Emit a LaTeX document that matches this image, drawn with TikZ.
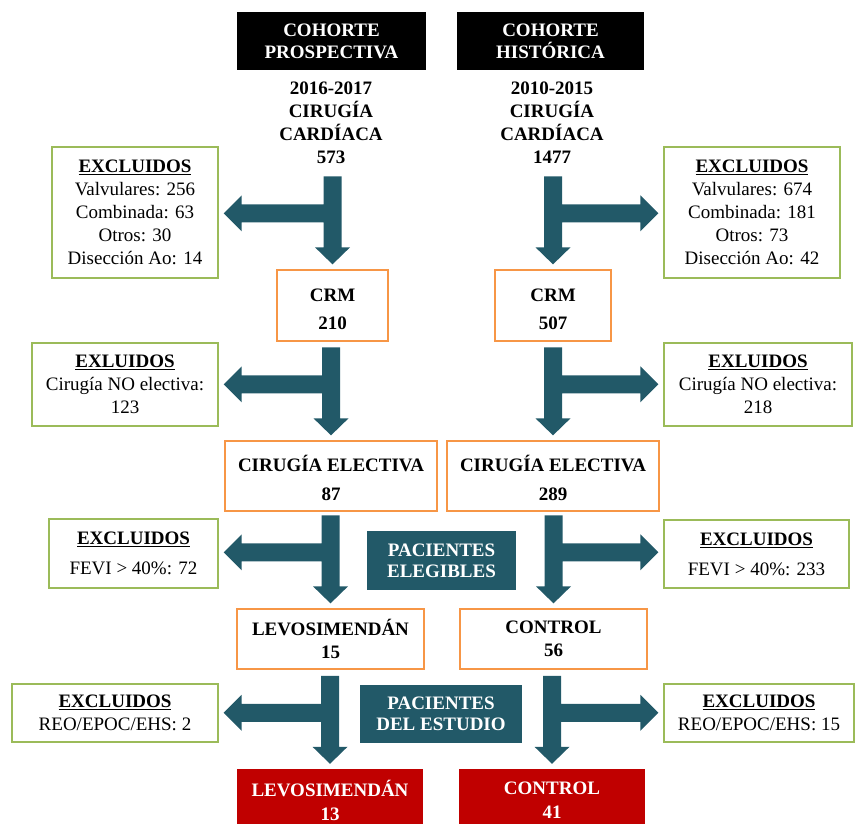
\documentclass[tikz,border=0pt]{standalone}
\usepackage{fontspec}
\setmainfont{Liberation Serif}
\usetikzlibrary{calc}

\definecolor{forkteal}{RGB}{34,89,104}
\definecolor{boxorange}{RGB}{247,150,70}
\definecolor{boxgreen}{RGB}{155,187,89}
\definecolor{boxred}{RGB}{192,0,0}

% Fork arrow: a vertical shaft ending above #1 with a side branch pointing to #2.
% #3 = -1 for a branch to the left, +1 for a branch to the right.
\newcommand\forkarrow[3]{%
  \fill[forkteal] let \p1=(#1.north), \p2=(#2), \n1={#3} in
    ({\x1-(\n1)*9pt},{\y1+93pt}) -- ({\x1-(\n1)*9pt},{\y1+22pt})
    -- ({\x1-(\n1)*17.5pt},{\y1+22pt}) -- (\x1,{\y1+5pt})
    -- ({\x1+(\n1)*17.5pt},{\y1+22pt}) -- ({\x1+(\n1)*9pt},{\y1+22pt})
    -- ({\x1+(\n1)*9pt},{\y1+47pt}) -- ({\x2-(\n1)*23pt},{\y1+47pt})
    -- ({\x2-(\n1)*23pt},{\y1+38pt}) -- ({\x2-(\n1)*5pt},{\y1+56pt})
    -- ({\x2-(\n1)*23pt},{\y1+74pt}) -- ({\x2-(\n1)*23pt},{\y1+65pt})
    -- ({\x1+(\n1)*9pt},{\y1+65pt}) -- ({\x1+(\n1)*9pt},{\y1+93pt}) -- cycle;}

\newcommand\exhead[1]{\textbf{\underline{#1}}}

\begin{document}
\begin{tikzpicture}[x=1pt,y=-1pt,
  base/.style={inner sep=0pt, align=center, font=\fontsize{19}{23}\selectfont},
  hdr/.style={base, fill=black, text=white, font=\fontsize{19}{22}\selectfont\bfseries},
  title/.style={base, font=\fontsize{19}{23}\selectfont\bfseries},
  flow/.style={base, draw=boxorange, line width=1.3pt, font=\fontsize{19}{23}\selectfont\bfseries},
  excl/.style={base, draw=boxgreen, line width=1.3pt},
  tag/.style={base, fill=forkteal, text=white, font=\fontsize{19}{21}\selectfont\bfseries},
  final/.style={base, fill=boxred, text=white, font=\fontsize{19}{24}\selectfont\bfseries},
  finaltext/.style={base, text=white, font=\fontsize{19}{24}\selectfont\bfseries}]
\useasboundingbox (0,0) rectangle (856,824);

% cohort headers
\node[hdr, minimum width=189pt, minimum height=58pt] (hL) at (331.5,41) {COHORTE\\PROSPECTIVA};
\node[hdr, minimum width=187pt, minimum height=58pt] (hR) at (550.5,41) {COHORTE\\HISTÓRICA};
\node[title] (tL) at (331,122.5) {2016-2017\\CIRUGÍA\\CARDÍACA\\573};
\node[title] (tR) at (552,122.5) {2010-2015\\CIRUGÍA\\CARDÍACA\\1477};

% first exclusion step
\node[excl, minimum width=166pt, minimum height=131pt] (exL1) at (135,212.5)
  {\exhead{EXCLUIDOS}\\Valvulares: 256\\Combinada: 63\\Otros: 30\\Disección Ao: 14};
\node[excl, minimum width=176pt, minimum height=131pt] (exR1) at (752,212.5)
  {\exhead{EXCLUIDOS}\\Valvulares: 674\\Combinada: 181\\Otros: 73\\Disección Ao: 42};
\node[flow, minimum width=111pt, minimum height=71pt] (crmL) at (332.5,305.5) {};
\node[title] (crmLt) at (332.5,309) {CRM\\[5pt]210};
\node[flow, minimum width=116pt, minimum height=71pt] (crmR) at (553,305.5) {};
\node[title] (crmRt) at (553,309) {CRM\\[5pt]507};

% second exclusion step
\node[excl, minimum width=186pt, minimum height=83pt] (exL2) at (125,384.5)
  {\exhead{EXLUIDOS}\\Cirugía NO electiva:\\123};
\node[excl, minimum width=188pt, minimum height=83pt] (exR2) at (758,384.5)
  {\exhead{EXLUIDOS}\\Cirugía NO electiva:\\218};
\node[flow, minimum width=212pt, minimum height=70pt] (ceL) at (331,476) {};
\node[title] (ceLt) at (331,477.5) {CIRUGÍA ELECTIVA\\[6pt]87};
\node[flow, minimum width=212pt, minimum height=70pt] (ceR) at (553,476) {};
\node[title] (ceRt) at (553,477.5) {CIRUGÍA ELECTIVA\\[6pt]289};

% third exclusion step
\node[excl, minimum width=169pt, minimum height=69pt] (exL3) at (133.5,553.5)
  {\exhead{EXCLUIDOS}\\[7pt]FEVI > 40\%: 72};
\node[excl, minimum width=185pt, minimum height=68pt] (exR3) at (756.5,554)
  {\exhead{EXCLUIDOS}\\[7pt]FEVI > 40\%: 233};
\node[tag, minimum width=149pt, minimum height=59pt] (pe) at (441.5,560.5) {PACIENTES\\ELEGIBLES};
\node[flow, minimum width=187pt, minimum height=60pt] (levo) at (330.5,639) {LEVOSIMENDÁN\\15};
\node[flow, minimum width=187pt, minimum height=60pt] (ctrl) at (553.5,639) {CONTROL\\56};

% fourth exclusion step
\node[excl, minimum width=206pt, minimum height=58pt] (exL4) at (115,713)
  {\exhead{EXCLUIDOS}\\REO/EPOC/EHS: 2};
\node[excl, minimum width=190pt, minimum height=58pt] (exR4) at (759,713)
  {\exhead{EXCLUIDOS}\\REO/EPOC/EHS: 15};
\node[tag, minimum width=162pt, minimum height=58pt] (pde) at (441,714) {PACIENTES\\DEL ESTUDIO};
\node[final, minimum width=186pt, minimum height=55pt] (levoF) at (330,796.5) {};
\node[finaltext] (levoFt) at (330,800) {LEVOSIMENDÁN\\13};
\node[final, minimum width=186pt, minimum height=55pt] (ctrlF) at (552,796.5) {};
\node[finaltext] (ctrlFt) at (552,800) {CONTROL\\41};

% fork arrows
\forkarrow{crmL}{exL1.east}{-1}
\forkarrow{crmR}{exR1.west}{1}
\forkarrow{ceL}{exL2.east}{-1}
\forkarrow{ceR}{exR2.west}{1}
\forkarrow{levo}{exL3.east}{-1}
\forkarrow{ctrl}{exR3.west}{1}
\forkarrow{levoF}{exL4.east}{-1}
\forkarrow{ctrlF}{exR4.west}{1}
\end{tikzpicture}
\end{document}
